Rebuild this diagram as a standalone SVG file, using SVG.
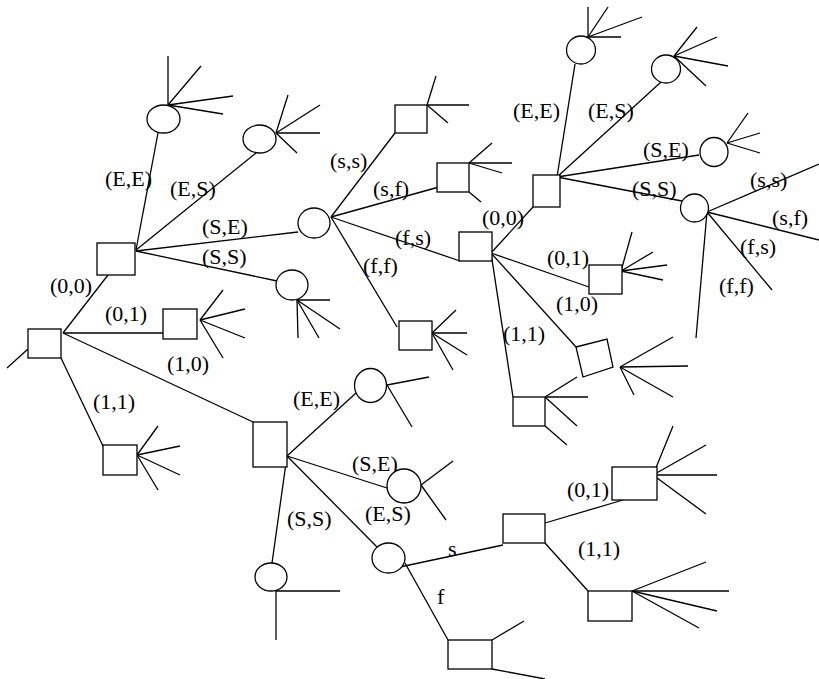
<svg xmlns="http://www.w3.org/2000/svg" width="819" height="679" viewBox="0 0 819 679">
<style>
.n{fill:#fff;stroke:#000;stroke-width:1.3}
.c line{stroke:#000;stroke-width:1.3;fill:none}
</style>
<rect width="819" height="679" fill="#fff"/>
<g class="c" id="connectors">
<line x1="7" y1="368" x2="28" y2="349"/>
<line x1="63" y1="333" x2="108" y2="275"/>
<line x1="63" y1="333" x2="163" y2="333"/>
<line x1="63" y1="333" x2="253" y2="422"/>
<line x1="61" y1="358" x2="103" y2="446"/>
<line x1="136" y1="250" x2="158" y2="133"/>
<line x1="136" y1="250" x2="256" y2="153"/>
<line x1="136" y1="251" x2="298" y2="232"/>
<line x1="136" y1="251" x2="277" y2="281"/>
<line x1="200" y1="320" x2="223" y2="290"/><line x1="200" y1="320" x2="245" y2="309"/><line x1="200" y1="320" x2="245" y2="338"/><line x1="200" y1="320" x2="223" y2="358"/>
<line x1="137" y1="455" x2="158" y2="426"/><line x1="137" y1="455" x2="180" y2="446"/><line x1="137" y1="455" x2="180" y2="475"/><line x1="137" y1="455" x2="158" y2="490"/>
<line x1="168" y1="105" x2="168" y2="56"/><line x1="168" y1="105" x2="201" y2="66"/><line x1="168" y1="105" x2="233" y2="96"/><line x1="168" y1="105" x2="223" y2="114"/>
<line x1="276" y1="133" x2="288" y2="95"/><line x1="276" y1="133" x2="320" y2="105"/><line x1="276" y1="133" x2="320" y2="133"/><line x1="276" y1="133" x2="297" y2="153"/>
<line x1="331" y1="217" x2="395" y2="133"/>
<line x1="331" y1="217" x2="439" y2="187"/>
<line x1="331" y1="217" x2="460" y2="261"/>
<line x1="331" y1="217" x2="397" y2="327"/>
<line x1="297" y1="300" x2="330" y2="300"/><line x1="297" y1="300" x2="340" y2="329"/><line x1="297" y1="300" x2="319" y2="338"/><line x1="297" y1="300" x2="298" y2="338"/>
<line x1="427" y1="105" x2="436" y2="76"/><line x1="427" y1="105" x2="469" y2="105"/><line x1="427" y1="105" x2="448" y2="123"/>
<line x1="469" y1="163" x2="492" y2="143"/><line x1="469" y1="163" x2="512" y2="163"/><line x1="469" y1="163" x2="502" y2="173"/><line x1="469" y1="192" x2="481" y2="202"/>
<line x1="432" y1="333" x2="456" y2="310"/><line x1="432" y1="333" x2="467" y2="333"/><line x1="432" y1="333" x2="467" y2="355"/><line x1="432" y1="333" x2="453" y2="370"/>
<line x1="491" y1="253" x2="533" y2="207"/>
<line x1="491" y1="253" x2="589" y2="287"/>
<line x1="491" y1="253" x2="576" y2="347"/>
<line x1="491" y1="253" x2="513" y2="397"/>
<line x1="621" y1="271" x2="632" y2="232"/><line x1="621" y1="271" x2="653" y2="252"/><line x1="621" y1="271" x2="667" y2="265"/><line x1="621" y1="271" x2="663" y2="280"/>
<line x1="620" y1="367" x2="673" y2="337"/><line x1="620" y1="367" x2="688" y2="366"/><line x1="620" y1="367" x2="673" y2="397"/><line x1="620" y1="367" x2="634" y2="395"/>
<line x1="545" y1="397" x2="577" y2="377"/><line x1="545" y1="397" x2="588" y2="397"/><line x1="545" y1="397" x2="577" y2="426"/><line x1="545" y1="426" x2="567" y2="445"/>
<line x1="557" y1="177" x2="575" y2="64"/>
<line x1="557" y1="177" x2="661" y2="82"/>
<line x1="557" y1="177" x2="699" y2="155"/>
<line x1="557" y1="177" x2="682" y2="201"/>
<line x1="588" y1="37" x2="588" y2="7"/><line x1="588" y1="37" x2="608" y2="7"/><line x1="588" y1="37" x2="642" y2="17"/><line x1="588" y1="37" x2="621" y2="37"/>
<line x1="674" y1="56" x2="697" y2="27"/><line x1="674" y1="56" x2="717" y2="37"/><line x1="674" y1="56" x2="728" y2="66"/><line x1="674" y1="56" x2="706" y2="86"/>
<line x1="727" y1="143" x2="748" y2="113"/><line x1="727" y1="143" x2="760" y2="133"/><line x1="727" y1="143" x2="760" y2="153"/>
<line x1="707" y1="212" x2="819" y2="164"/><line x1="707" y1="212" x2="819" y2="240"/><line x1="707" y1="212" x2="772" y2="290"/><line x1="707" y1="212" x2="696" y2="338"/>
<line x1="287" y1="456" x2="356" y2="393"/>
<line x1="287" y1="456" x2="387" y2="488"/>
<line x1="287" y1="456" x2="377" y2="547"/>
<line x1="287" y1="456" x2="272" y2="563"/>
<line x1="387" y1="385" x2="429" y2="377"/><line x1="387" y1="385" x2="412" y2="427"/>
<line x1="421" y1="485" x2="453" y2="461"/><line x1="421" y1="485" x2="446" y2="520"/>
<line x1="400" y1="567" x2="503" y2="545"/>
<line x1="405" y1="563" x2="448" y2="640"/>
<line x1="492" y1="640" x2="524" y2="621"/><line x1="492" y1="669" x2="545" y2="679"/>
<line x1="276" y1="591" x2="340" y2="591"/><line x1="276" y1="591" x2="276" y2="640"/>
<line x1="545" y1="523" x2="623" y2="500"/>
<line x1="545" y1="543" x2="588" y2="591"/>
<line x1="653" y1="475" x2="673" y2="426"/><line x1="653" y1="475" x2="706" y2="445"/><line x1="653" y1="475" x2="717" y2="475"/><line x1="653" y1="475" x2="706" y2="514"/>
<line x1="632" y1="591" x2="706" y2="562"/><line x1="632" y1="591" x2="729" y2="591"/><line x1="632" y1="591" x2="717" y2="611"/><line x1="632" y1="591" x2="699" y2="628"/>
</g>
<g id="labels">
<text font-family="Liberation Serif" font-size="22" x="50" y="293">(0,0)</text>
<text font-family="Liberation Serif" font-size="22" x="105" y="321">(0,1)</text>
<text font-family="Liberation Serif" font-size="22" x="167" y="371">(1,0)</text>
<text font-family="Liberation Serif" font-size="22" x="93" y="409">(1,1)</text>
<text font-family="Liberation Serif" font-size="22" x="105" y="186">(E,E)</text>
<text font-family="Liberation Serif" font-size="22" x="170" y="196">(E,S)</text>
<text font-family="Liberation Serif" font-size="22" x="202" y="234">(S,E)</text>
<text font-family="Liberation Serif" font-size="22" x="202" y="264">(S,S)</text>
<text font-family="Liberation Serif" font-size="22" x="330" y="168">(s,s)</text>
<text font-family="Liberation Serif" font-size="22" x="373" y="196">(s,f)</text>
<text font-family="Liberation Serif" font-size="22" x="395" y="245">(f,s)</text>
<text font-family="Liberation Serif" font-size="22" x="363" y="273">(f,f)</text>
<text font-family="Liberation Serif" font-size="22" x="482" y="225">(0,0)</text>
<text font-family="Liberation Serif" font-size="22" x="547" y="265">(0,1)</text>
<text font-family="Liberation Serif" font-size="22" x="556" y="311">(1,0)</text>
<text font-family="Liberation Serif" font-size="22" x="503" y="341">(1,1)</text>
<text font-family="Liberation Serif" font-size="22" x="513" y="118">(E,E)</text>
<text font-family="Liberation Serif" font-size="22" x="588" y="118">(E,S)</text>
<text font-family="Liberation Serif" font-size="22" x="643" y="157">(S,E)</text>
<text font-family="Liberation Serif" font-size="22" x="632" y="196">(S,S)</text>
<text font-family="Liberation Serif" font-size="22" x="750" y="187">(s,s)</text>
<text font-family="Liberation Serif" font-size="22" x="772" y="225">(s,f)</text>
<text font-family="Liberation Serif" font-size="22" x="740" y="254">(f,s)</text>
<text font-family="Liberation Serif" font-size="22" x="719" y="293">(f,f)</text>
<text font-family="Liberation Serif" font-size="22" x="293" y="406">(E,E)</text>
<text font-family="Liberation Serif" font-size="22" x="352" y="471">(S,E)</text>
<text font-family="Liberation Serif" font-size="22" x="365" y="521">(E,S)</text>
<text font-family="Liberation Serif" font-size="22" x="287" y="526">(S,S)</text>
<text font-family="Liberation Serif" font-size="22" x="448" y="556">s</text>
<text font-family="Liberation Serif" font-size="22" x="437" y="604">f</text>
<text font-family="Liberation Serif" font-size="22" x="567" y="497">(0,1)</text>
<text font-family="Liberation Serif" font-size="22" x="578" y="556">(1,1)</text>
</g>
<g id="root"><rect class="n" x="28" y="329" width="33" height="29"/></g>
<g id="A"><rect class="n" x="97" y="243" width="38" height="32"/></g>
<g id="B"><rect class="n" x="163" y="309" width="34" height="30"/></g>
<g id="C"><rect class="n" x="253" y="422" width="34" height="45"/></g>
<g id="D"><rect class="n" x="103" y="445" width="34" height="30"/></g>
<g id="E1"><ellipse class="n" cx="163.5" cy="119" rx="16.5" ry="14"/></g>
<g id="E2"><ellipse class="n" cx="259.5" cy="139" rx="16.5" ry="14"/></g>
<g id="E3"><ellipse class="n" cx="314" cy="223" rx="16" ry="15"/></g>
<g id="E4"><ellipse class="n" cx="292" cy="285" rx="16" ry="15"/></g>
<g id="F"><rect class="n" x="395" y="105" width="32" height="28"/></g>
<g id="G"><rect class="n" x="437" y="163" width="32" height="29"/></g>
<g id="H"><rect class="n" x="459" y="232" width="33" height="29"/></g>
<g id="I"><rect class="n" x="399" y="321" width="33" height="29"/></g>
<g id="J"><rect class="n" x="533" y="175" width="27" height="32"/></g>
<g id="K"><rect class="n" x="589" y="265" width="33" height="29"/></g>
<g id="L"><polygon class="n" points="576,347 607,339 613,367 583,377"/></g>
<g id="M"><rect class="n" x="513" y="397" width="32" height="29"/></g>
<g id="N1"><ellipse class="n" cx="581" cy="50" rx="14.5" ry="14"/></g>
<g id="N2"><ellipse class="n" cx="666" cy="69" rx="14.5" ry="14"/></g>
<g id="N3"><ellipse class="n" cx="714" cy="152" rx="14" ry="14.5"/></g>
<g id="N4"><ellipse class="n" cx="694.5" cy="208" rx="14" ry="14"/></g>
<g id="P1"><ellipse class="n" cx="370.5" cy="385.5" rx="16" ry="17"/></g>
<g id="P2"><ellipse class="n" cx="404" cy="486" rx="17" ry="17"/></g>
<g id="P3"><ellipse class="n" cx="388.5" cy="558" rx="16.5" ry="15"/></g>
<g id="P4"><ellipse class="n" cx="271" cy="577" rx="16" ry="14"/></g>
<g id="Q"><rect class="n" x="503" y="514" width="42" height="29"/></g>
<g id="R"><rect class="n" x="448" y="640" width="44" height="29"/></g>
<g id="S"><rect class="n" x="612" y="467" width="45" height="33"/></g>
<g id="T"><rect class="n" x="588" y="591" width="44" height="30"/></g>
</svg>
